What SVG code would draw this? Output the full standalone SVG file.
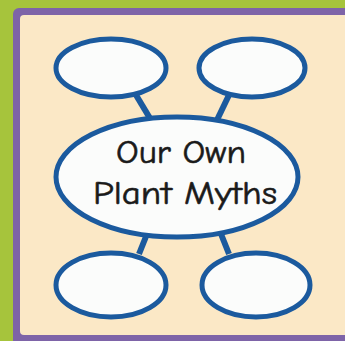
<svg xmlns="http://www.w3.org/2000/svg" width="345" height="341" viewBox="0 0 345 341">
<style>
.node ellipse{fill:#fbfcfb;stroke:#1b5a9e;stroke-width:5}
.conn line{stroke:#1b5a9e;stroke-width:6}
.lbl{font-family:"Comic Neue","DejaVu Sans",sans-serif;font-size:33px;fill:#1a1a1a;stroke:#1a1a1a;stroke-width:0.6;text-anchor:middle}
</style>
<rect x="0" y="0" width="345" height="341" fill="#a6c43c"/>
<rect x="13" y="8" width="345" height="340" rx="6" fill="#7e64a8"/>
<rect x="20" y="15" width="340" height="320" rx="4" fill="#fbe8c6"/>
<g class="conn">
<line x1="136" y1="95" x2="151" y2="120"/>
<line x1="229" y1="95" x2="217" y2="120"/>
<line x1="147" y1="234" x2="139" y2="254"/>
<line x1="221" y1="234" x2="229" y2="254"/>
</g>
<g id="n-tl" class="node"><ellipse cx="111" cy="68" rx="55" ry="29"/></g>
<g id="n-tr" class="node"><ellipse cx="252" cy="68" rx="53" ry="29"/></g>
<g id="n-bl" class="node"><ellipse cx="111" cy="285" rx="55" ry="32"/></g>
<g id="n-br" class="node"><ellipse cx="256" cy="285" rx="54" ry="32"/></g>
<g id="n-center" class="node"><ellipse cx="177" cy="177" rx="121" ry="60"/>
<text class="lbl" x="181" y="163" textLength="130" lengthAdjust="spacingAndGlyphs">Our Own</text>
<text class="lbl" x="185" y="204" textLength="184" lengthAdjust="spacingAndGlyphs">Plant Myths</text>
</g>
</svg>
